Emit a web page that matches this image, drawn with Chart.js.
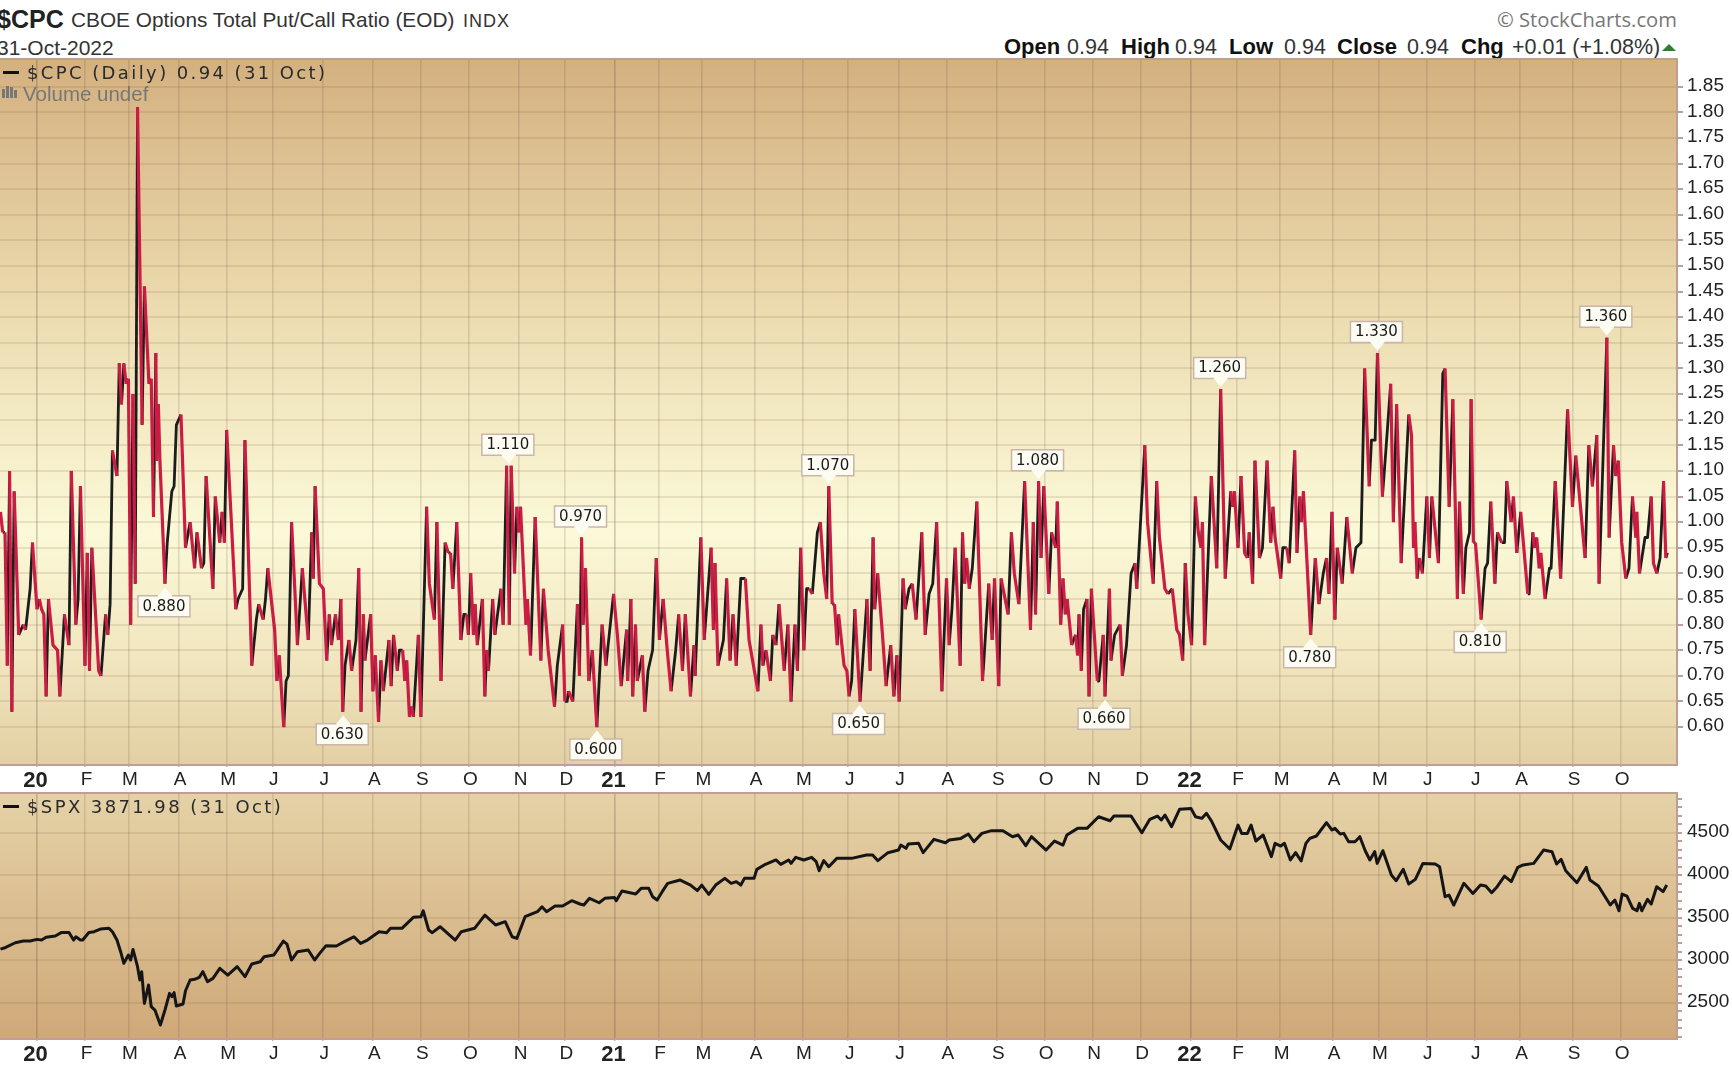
<!DOCTYPE html>
<html>
<head>
<meta charset="utf-8">
<title>$CPC</title>
<script src="https://cdn.jsdelivr.net/npm/chart.js@4"></script>
<style>
html, body { margin: 0; padding: 0; background: #fff; width: 1732px; height: 1066px; overflow: hidden; }
canvas { position: absolute; left: 0; }
.t { position: absolute; white-space: nowrap; font-family: "Liberation Sans", sans-serif; color: #222; line-height: 1; }
.b { font-weight: bold; font-size: 22px; color: #111; top: 36px; }
.v { font-size: 21.5px; color: #333; top: 37px; }
.leg { font-family: "DejaVu Sans"; font-size: 18px; letter-spacing: 2.4px; color: #2a2a2a; }
</style>
</head>
<body>
<div class="t" style="left:-3px;top:7px;font-size:25px;font-weight:bold;color:#222">$CPC</div>
<div class="t" style="left:71px;top:10px;font-size:20.8px;color:#333">CBOE Options Total Put/Call Ratio (EOD)</div>
<div class="t" style="left:463px;top:12px;font-size:18px;letter-spacing:1px;color:#333">INDX</div>
<div class="t" style="left:-3px;top:37px;font-size:21px;color:#333">31-Oct-2022</div>
<div class="t" style="left:1497px;top:9px;font-family:'Open Sans';font-size:20.2px;color:#777">© StockCharts.com</div>
<div class="t b" style="left:1004px">Open</div><div class="t v" style="left:1067px">0.94</div>
<div class="t b" style="left:1121px">High</div><div class="t v" style="left:1175px">0.94</div>
<div class="t b" style="left:1229px">Low</div><div class="t v" style="left:1284px">0.94</div>
<div class="t b" style="left:1337px">Close</div><div class="t v" style="left:1407px">0.94</div>
<div class="t b" style="left:1461px">Chg</div><div class="t v" style="left:1512px">+0.01 (+1.08%)</div>
<div style="position:absolute;left:1662px;top:44px;width:0;height:0;border-left:7px solid transparent;border-right:7px solid transparent;border-bottom:7px solid #2e7d32"></div>

<canvas id="cpcChart" width="1732" height="740" style="top:50px"></canvas>
<canvas id="spxChart" width="1732" height="282" style="top:784px"></canvas>

<div style="position:absolute;left:3px;top:71px;width:16px;height:3px;background:#111"></div>
<div class="t leg" style="left:27px;top:64px">$CPC (Daily) 0.94 (31 Oct)</div>
<div style="position:absolute;left:2px;top:89px;width:3px;height:9px;background:#777"></div>
<div style="position:absolute;left:6px;top:86px;width:3px;height:12px;background:#777"></div>
<div style="position:absolute;left:10px;top:87px;width:3px;height:11px;background:#777"></div>
<div style="position:absolute;left:14px;top:90px;width:3px;height:8px;background:#777"></div>
<div class="t" style="left:23px;top:84px;font-size:20.5px;color:#777">Volume undef</div>
<div style="position:absolute;left:3px;top:805px;width:16px;height:3px;background:#111"></div>
<div class="t leg" style="left:27px;top:798px">$SPX 3871.98 (31 Oct)</div>

<script>
// x positions are trading days counted from 2 Jan 2020
const monthDays = [0, 21, 40, 62, 83, 103, 125, 147, 168, 189, 211, 231,
    253, 272, 291, 314, 335, 355, 377, 398, 420, 441, 462, 483,
    505, 525, 544, 567, 587, 608, 629, 649, 672, 693];
const monthNames = ["20", "F", "M", "A", "M", "J", "J", "A", "S", "O", "N", "D",
    "21", "F", "M", "A", "M", "J", "J", "A", "S", "O", "N", "D",
    "22", "F", "M", "A", "M", "J", "J", "A", "S", "O"];

const cpcTicks = [0.60, 0.65, 0.70, 0.75, 0.80, 0.85, 0.90, 0.95, 1.00, 1.05, 1.10, 1.15, 1.20,
    1.25, 1.30, 1.35, 1.40, 1.45, 1.50, 1.55, 1.60, 1.65, 1.70, 1.75, 1.80, 1.85];
const spxTicks = [2100, 2200, 2300, 2400, 2500, 2600, 2700, 2800, 2900, 3000, 3100, 3200, 3300, 3400, 3500,
    3600, 3700, 3800, 3900, 4000, 4100, 4200, 4300, 4400, 4500, 4600, 4700, 4800, 4900];

const cpcDays = [-16, -15, -14, -13, -12, -11, -10, -8, -6, -5, -3, -2, 0, 1, 2, 3, 4, 5, 7, 9, 10, 12, 14, 15, 17, 18, 19,
    21, 22, 23, 24, 27, 28, 30, 31, 32, 33, 35, 36, 37, 38, 39, 40, 41, 42, 43, 44, 46, 47, 49, 50, 51, 52, 52.4, 53.1, 53.8,
    56, 57, 59, 60, 61, 63, 65, 67, 69, 70, 72, 73, 74, 77, 78, 80, 81, 82, 83, 87, 88, 90, 91, 94, 96, 97, 99, 100, 101,
    103, 104, 105, 106, 108, 109, 110, 111.4, 114, 116.1, 118.7, 120.2, 120.9, 121.7, 123.6, 125.3, 126.8, 127.9, 128.9,
    130.6, 131.9, 133, 133.8, 134.8, 136.5, 137.7, 139.6, 140.8, 141.8, 142.8, 143.5, 146, 147, 148, 149.5, 150.5, 151.6,
    154, 155, 156, 157.7, 158.6, 160, 161, 161.8, 163, 164, 164.7, 166.9, 168, 170.5, 171.7, 173.9, 175, 176.8, 178.6, 180,
    181, 182, 183.7, 185.5, 186.8, 188, 188.8, 189.8, 191, 191.7, 192.7, 194.9, 196, 196.8, 197.6, 199.4, 200.4, 203, 204,
    205.5, 206.7, 207.5, 209, 210, 210.9, 211.6, 214, 214.6, 216, 218, 220.5, 221.6, 223.7, 226.5, 227.7, 230, 231, 232,
    232.6, 234.5, 236.5, 237.4, 238.3, 239, 240, 241.5, 243, 245,
    247.3, 249, 252.3, 254, 255.7, 258, 258.5, 259.9, 260.7, 261.9, 262.7, 264.9, 266, 267.4, 269.4, 271, 272.4, 274, 275.8,
    277.5, 279.5, 280.8, 282.5, 283.7, 286, 287.5, 288, 290.5, 292, 295, 296, 296.7, 298, 300.4, 301.8, 303.3, 304.6, 306,
    308, 310, 311.6, 315.5, 316.8, 317.7, 319, 321, 322, 323.4, 324.7, 327, 328.6, 330, 331.7, 332.8, 334.2, 335.6, 336.8,
    338, 339.3, 341.5, 342.8, 344.3, 345.6, 346.5, 348, 349, 350.2, 350.8, 353.2, 354.4, 355.4, 356.5, 357.9, 360.2, 363.2,
    364.6, 365.9, 366.6, 367.9, 370, 371.6, 373.6, 375, 376.3, 377.3, 379, 380, 381.6, 383, 384.7, 387.2, 388.7, 390.4, 392,
    393.7, 396, 398, 399.2, 400.4, 401.8, 404, 405, 406, 406.8, 408, 409.3, 411.3, 413.8, 416.5, 418, 419, 420.9, 421.9,
    425, 426.4, 427.7, 429.7, 432.2, 434.8, 436, 437, 438.3, 439.4, 440.6, 442.8, 444, 445.8, 446.5, 448, 449, 450, 450.8,
    452.8, 454.5, 455.4, 456, 457, 458, 459.5, 460.4, 461.4, 464, 464.7, 466.6, 467.4, 469.3, 470, 471.6, 474, 475, 476.8,
    478.8, 480.5, 481.3, 484.8, 486, 488.5, 490,
    491.2, 493.6, 494.9, 496.8, 498.8, 500, 501.4, 502.5, 503.7, 505.3, 506.9, 508.2, 509.4, 510, 511, 513.9, 516.3, 518, 520,
    522.4, 523.3, 524, 525.6, 526.9, 528.5, 529.7, 530.5, 532, 533, 535, 536.3, 538.3, 539.9, 540.9, 541.8, 544.3, 545.2,
    546.9, 548, 550.4, 551.4, 552.6, 553.4, 554.2, 557.4, 559.4, 561, 562.9, 564.3, 565.4, 566.7, 568, 569, 571.2, 573.2,
    575.6, 577.2, 579.4, 581, 583, 584,
    585.6, 586.6, 588.8, 590.3, 592.4, 593.6, 595, 597, 600.3, 601.5, 602.4, 603, 604, 605, 606.3, 608.2, 609.4, 610.4, 613.3,
    615.2, 616.2, 618, 619.6, 621.6, 622.5, 624.2, 625.3, 626.9, 627.6, 628.6, 629.5, 632, 633.7, 634.8, 636.2, 638, 639.1,
    641, 642.2, 643.2, 645.1, 646.1, 647.6, 649.3, 652.4, 653, 654.6, 655.3, 656.3, 657.4, 658.1, 660, 661.9, 662.6, 664.4,
    666.8, 669.8, 672, 673.4, 677.5, 679.1, 680.7, 682.6, 683.6, 687, 688, 689.9, 690.9, 692, 693.5, 695.3, 696.7, 698.2,
    699.7, 700.1, 701.3, 703.7, 704.8, 706.4, 707.4, 708.9, 710.3, 711.8, 712.8, 713.5];
const cpcValues = [1.02, 0.98, 0.98, 0.72, 1.10, 0.63, 1.06, 0.78, 0.80, 0.79, 0.87, 0.96, 0.83, 0.85, 0.83, 0.82, 0.66, 0.85, 0.76, 0.75, 0.66, 0.82, 0.76, 1.10, 0.80, 0.85, 1.07,
    0.72, 0.94, 0.71, 0.95, 0.71, 0.70, 0.82, 0.78, 0.84, 1.14, 1.09, 1.31, 1.23, 1.31, 1.27, 1.28, 0.80, 1.25, 0.88, 1.81, 1.19, 1.46, 1.27, 1.28, 1.01, 1.33, 1.12, 1.23, 1.12,
    0.88, 0.96, 1.06, 1.07, 1.19, 1.21, 0.95, 1.00, 0.91, 0.98, 0.91, 0.92, 1.09, 0.87, 1.05, 0.96, 1.02, 0.96, 1.18, 0.83, 0.85, 0.87, 1.16, 0.72, 0.81, 0.84, 0.81, 0.85, 0.91,
    0.83, 0.79, 0.69, 0.74, 0.60, 0.69, 0.70, 1.00, 0.76, 0.91, 0.77, 0.98, 0.89, 1.07, 0.88, 0.87, 0.73, 0.82, 0.76,
    0.82, 0.77, 0.85, 0.63, 0.72, 0.77, 0.71, 0.77, 0.91, 0.63, 0.82, 0.73, 0.82, 0.67, 0.74, 0.61, 0.73, 0.67,
    0.77, 0.68, 0.78, 0.71, 0.75, 0.75, 0.69, 0.73, 0.62, 0.64, 0.62, 0.78, 0.62, 1.03, 0.88, 0.81, 1.00, 0.69, 0.96, 0.94,
    0.94, 0.87, 1.00, 0.77, 0.82, 0.82, 0.78, 0.90, 0.78, 0.84, 0.76, 0.85, 0.66, 0.75, 0.71, 0.85, 0.78, 0.87, 0.80,
    1.11, 0.80, 1.11, 0.90, 1.03, 0.98, 1.03, 0.80, 0.85, 0.74, 1.01, 0.73, 0.87, 0.75, 0.64, 0.72, 0.80, 0.65, 0.65,
    0.67, 0.65, 0.84, 0.70, 0.97, 0.80, 0.91, 0.69, 0.75, 0.60,
    0.80, 0.72, 0.86, 0.78, 0.68, 0.79, 0.69, 0.85, 0.66, 0.80, 0.69, 0.74, 0.63, 0.71, 0.75, 0.93, 0.77, 0.85, 0.75,
    0.67, 0.75, 0.82, 0.71, 0.82, 0.66, 0.76, 0.70, 0.97, 0.77, 0.95, 0.79, 0.92, 0.72, 0.77, 0.89, 0.73, 0.82, 0.72,
    0.89, 0.89, 0.77, 0.67, 0.80, 0.72, 0.75, 0.69, 0.78, 0.76, 0.84, 0.71, 0.80, 0.65, 0.80, 0.71, 0.95, 0.75, 0.87,
    0.87, 0.86, 0.98, 1.00, 0.90, 0.85, 1.07, 0.84, 0.84, 0.76, 0.82, 0.72, 0.71, 0.66, 0.69, 0.83, 0.65, 0.85,
    0.71, 0.97, 0.83, 0.90, 0.78, 0.68, 0.76, 0.66, 0.74, 0.65, 0.89, 0.83, 0.87, 0.88, 0.81, 0.98, 0.78, 0.86, 0.88,
    1.00, 0.67, 0.89, 0.76, 0.83, 0.95, 0.72, 0.98, 0.88, 0.93, 0.87, 0.91, 1.04, 0.69, 0.88, 0.77, 0.89, 0.68, 0.89,
    0.82, 0.98, 0.90, 0.84, 1.08, 0.79, 1.00, 0.82, 1.08, 0.93, 1.07, 0.86, 0.98, 0.95, 1.04, 0.80, 0.89, 0.82, 0.85,
    0.76, 0.78, 0.74, 0.82, 0.71, 0.83, 0.85, 0.66, 0.87, 0.69, 0.69, 0.78, 0.66, 0.87, 0.73, 0.78, 0.80, 0.70, 0.76,
    0.90, 0.92, 0.87, 1.15, 1.00, 0.88, 1.08,
    0.97, 0.87, 0.86, 0.87, 0.79, 0.78, 0.73, 0.92, 0.82, 0.76, 1.05, 0.98, 0.95, 1.00, 0.76, 1.09, 0.91, 1.26, 0.89,
    1.06, 1.03, 1.06, 0.95, 1.09, 0.94, 0.93, 0.98, 0.88, 1.12, 0.93, 0.95, 1.12, 0.96, 1.03, 0.97, 0.89, 0.95,
    0.95, 0.92, 1.14, 0.94, 1.05, 1.00, 1.06, 0.78, 0.93, 0.84, 0.90, 0.93, 0.86, 1.02, 0.81, 0.95, 0.88, 1.01,
    0.90, 0.95, 0.96, 1.30, 1.07, 1.16,
    1.16, 1.33, 1.05, 1.14, 1.27, 1.00, 1.23, 0.92, 1.21, 1.17, 0.95, 1.00, 0.89, 0.93, 0.90, 1.05, 0.93, 1.05, 0.92,
    1.29, 1.30, 1.03, 1.24, 0.85, 1.04, 0.86, 0.95, 0.98, 1.24, 0.96, 0.96, 0.81, 0.91, 0.92, 1.04, 0.88, 0.98,
    0.96, 0.96, 1.08, 1.00, 1.05, 0.94, 1.02, 0.86, 0.86, 0.98, 0.95, 0.97, 0.91, 0.94, 0.85, 0.91, 0.91, 1.08,
    0.89, 1.22, 1.03, 1.13, 0.93, 1.15, 1.07, 1.17, 0.88, 1.36, 0.97, 1.15, 1.09, 1.12, 0.96, 0.89, 0.91, 1.05,
    0.97, 1.02, 0.90, 0.97, 0.97, 1.05, 0.92, 0.90, 0.93, 1.08, 0.93, 0.94];

const spxDays = [-16, -13.7, -9.5, -6, -3, 0, 2, 4, 8, 10.6, 14, 16, 17, 19, 20, 22.7, 25, 27.7, 31.5, 33, 35, 36.6, 38, 40, 41, 42,
    44, 45, 45.8, 47, 48.8, 50, 51.6, 54, 56, 58, 59, 60, 61, 63.9, 65, 67, 69, 71, 72.6, 74.6, 77, 80, 83.5, 87.6, 91, 94,
    97.7, 99.4, 103.6, 105, 107.8, 109.4, 111.4, 114, 118.7, 121.5, 123.7, 126.5, 131, 134.5, 138.7, 141.6, 144.6, 149.7, 153,
    154.7, 159.7, 164.7, 168, 169, 171.4, 173, 176.4, 183, 185.7, 191.5, 196, 200.7, 204.9, 207.9, 210, 213.6, 219, 221, 223,
    226.7, 230, 234, 237.6, 239.3, 241.8, 246, 248.5, 252.7, 253.5, 256, 262, 264.4, 267.7, 269.4, 271.4, 273.6, 276, 281.5,
    286, 289, 290.9, 294, 297, 301, 303.8, 306, 308, 309.6, 313.8, 315, 318.8, 323.4, 325.5, 328.9, 330, 332, 335.6, 339, 341,
    342.3, 344.3, 346.5, 350, 356.5, 363, 365.7, 368, 372.4, 377, 378, 380.3, 381.3, 385.8, 387.8, 392.5, 397.6, 399.2, 404.3,
    407.6, 410, 413.5, 417.7, 422.7, 426.9, 429.4, 432.7, 435.2, 441.6, 445.3, 449, 450.7, 455.4, 459.5, 464.6, 469.6, 471.3,
    478.8, 483.5, 487, 490.3, 492, 493.6, 496.5, 500, 505, 507, 509.8, 511.8, 513.9, 518, 522, 525.6, 527.2, 529.7, 531.3,
    533.4, 536.6, 540.2, 541.8, 544.3, 545.9, 548.5, 550.8, 553.2, 555.3, 557, 559.9, 564.3, 566.7, 568, 570.3, 571.9, 574,
    576.8, 578.9, 581.3, 583.3, 585.4, 586.5, 589, 592.7, 594.8, 597.9, 600.3, 603.2, 606.5, 611.9, 613.8, 616.2, 617.9, 620,
    622, 624.4, 628.4, 631.7, 634, 636.6, 639, 642.2, 645.2, 648, 650.4, 655, 659.3, 663, 665, 667, 669, 673.9, 678, 679.6,
    683.3, 688.5, 690.5, 692.3, 693.7, 695.8, 698.3, 700.2, 701.2, 702.3, 704.8, 706.4, 708.8, 711.6, 713.2];
const spxValues = [3130, 3150, 3205, 3225, 3225, 3245, 3237, 3270, 3285, 3325, 3325, 3237, 3276, 3237, 3237, 3325, 3335, 3367, 3375, 3335, 3237, 3100, 2963, 3060, 3002, 3127,
    2924, 2767, 2865, 2492, 2708, 2453, 2414, 2237, 2414, 2610, 2571, 2618, 2461, 2484, 2641, 2767, 2775, 2798, 2865, 2747, 2786, 2904, 2825, 2924, 2806, 2955,
    2982, 3041, 3061, 3112, 3225, 3190, 3002, 3100, 3120, 3002, 3080, 3171, 3167, 3218, 3276, 3198, 3237, 3335, 3324,
    3375, 3375, 3504, 3512, 3582, 3355, 3324, 3394, 3237, 3335, 3375, 3531, 3414, 3453, 3276, 3257, 3512, 3571, 3629, 3571,
    3637, 3637, 3700, 3661, 3649, 3728, 3676, 3728, 3739, 3700, 3814, 3779, 3845, 3845, 3747, 3708, 3806, 3904, 3943,
    3884, 3818, 3884, 3775, 3884, 3963, 3904, 3924, 3884, 3963, 3963, 4069, 4128, 4179, 4128, 4179, 4139, 4210, 4179, 4210, 4159,
    4053, 4171, 4100, 4198, 4198, 4237, 4237, 4171, 4265, 4296, 4355, 4316, 4367, 4375, 4265, 4422, 4382, 4414, 4433,
    4484, 4394, 4492, 4524, 4524, 4453, 4473, 4347, 4453, 4296, 4402, 4355, 4473, 4551, 4551, 4688, 4641, 4696,
    4696, 4500, 4657, 4696, 4649, 4708, 4571, 4775, 4786, 4688, 4669, 4728, 4641, 4414, 4308, 4590, 4492, 4492, 4590,
    4402, 4473, 4218, 4375, 4343, 4375, 4179, 4265, 4167, 4375, 4433, 4461, 4618, 4532, 4551, 4484, 4492, 4394,
    4394, 4453, 4284, 4179, 4277, 4139, 4288, 4002, 3935, 4069, 3896, 3951, 4139, 4131, 4100, 3747, 3767, 3649,
    3767, 3904, 3786, 3884, 3873, 3794, 3865, 3990, 3924, 4092, 4120, 4139, 4296, 4277, 4131, 4186, 4053, 3912, 4092, 3943,
    3873, 3649, 3708, 3582, 3778, 3755, 3610, 3582, 3669, 3582, 3716, 3661, 3865, 3806, 3884];

// highs and lows flagged on the $CPC panel
const calloutDays = [56, 134, 206.5, 238.3, 245, 346.5, 360, 438.3, 467.4, 518, 557.4, 586.6, 632, 687];
const calloutValues = [0.88, 0.63, 1.11, 0.97, 0.60, 1.07, 0.65, 1.08, 0.66, 1.26, 0.78, 1.33, 0.81, 1.36];
const calloutAbove = [false, false, true, true, false, true, false, true, false, true, false, true, false, true];

const upColor = '#1c1c1c';
const downColor = '#cc1c44';
const hidden = 'rgba(0, 0, 0, 0)';
const gridColor = 'rgba(125, 95, 70, 0.15)';
const edgeColor = '#c09e94';
const tickFont = { family: '"Liberation Sans"', size: 19 };

const panelPaint = {
    id: 'panelPaint',
    beforeDraw(chart, args, opts) {
        const a = chart.chartArea, c = chart.ctx;
        const g = c.createLinearGradient(0, a.top, 0, a.bottom);
        opts.stops.forEach(s => g.addColorStop(s[0], s[1]));
        c.save();
        c.fillStyle = g;
        c.fillRect(a.left, a.top, a.width, a.height);
        c.restore();
    },
    afterDraw(chart) {
        const a = chart.chartArea, c = chart.ctx;
        c.save();
        c.strokeStyle = edgeColor;
        c.lineWidth = 2;
        c.beginPath();
        c.moveTo(a.left, a.top);
        c.lineTo(a.right, a.top);
        c.lineTo(a.right, a.bottom);
        c.lineTo(a.left, a.bottom);
        c.stroke();
        c.restore();
    }
};

const calloutPaint = {
    id: 'calloutPaint',
    afterDatasetsDraw(chart) {
        const c = chart.ctx, x = chart.scales.x, y = chart.scales.y;
        c.save();
        c.font = '15px "DejaVu Sans"';
        c.textAlign = 'center';
        c.textBaseline = 'middle';
        calloutDays.forEach((d, i) => {
            const px = x.getPixelForValue(d), py = y.getPixelForValue(calloutValues[i]);
            const dir = calloutAbove[i] ? -1 : 1;
            const tip = py + dir * (calloutAbove[i] ? 2 : 3.5), base = tip + dir * 8.5, far = base + dir * 21;
            const l = px - 27, r = px + 25;
            c.beginPath();
            c.moveTo(px, tip);
            c.lineTo(px + 7, base);
            c.lineTo(r, base);
            c.lineTo(r, far);
            c.lineTo(l, far);
            c.lineTo(l, base);
            c.lineTo(px - 7, base);
            c.closePath();
            c.fillStyle = '#fdfcf3';
            c.fill();
            c.strokeStyle = '#c9b5aa';
            c.lineWidth = 1.5;
            c.beginPath();
            c.moveTo(px + 7, base);
            c.lineTo(r, base);
            c.lineTo(r, far);
            c.lineTo(l, far);
            c.lineTo(l, base);
            c.lineTo(px - 7, base);
            c.stroke();
            c.fillStyle = '#1a1a1a';
            c.fillText(calloutValues[i].toFixed(3), px - 1, (base + far) / 2 + 0.5);
        });
        c.restore();
    }
};

// the label padding Chart.js reserves would push the panels off their places
function noAxisPadding(s) {
    s.paddingTop = 0;
    s.paddingBottom = 0;
    s.paddingLeft = 0;
    s.paddingRight = 0;
}

function xAxis(bottomSpace) {
    const isYear = c => c.tick && monthNames[monthDays.indexOf(c.tick.value)].length > 1;
    return {
        type: 'linear',
        min: -16.19,
        max: 717.7,
        afterBuildTicks: s => { s.ticks = monthDays.map(v => ({ value: v })); },
        afterFit: s => { s.height = bottomSpace; noAxisPadding(s); },
        border: { display: false },
        grid: {
            color: c => isYear(c) ? 'rgba(110, 85, 70, 0.3)' : 'rgba(110, 85, 70, 0.18)',
            lineWidth: 1.6,
            tickLength: 2,
            tickColor: 'rgba(110, 85, 70, 0.4)'
        },
        ticks: {
            autoSkip: false,
            maxRotation: 0,
            padding: 1,
            labelOffset: 1.5,
            color: '#222',
            font: c => ({
                family: tickFont.family,
                size: isYear(c) ? 22 : 19,
                weight: isYear(c) ? 'bold' : 'normal'
            }),
            callback: v => {
                const name = monthNames[monthDays.indexOf(v)];
                return name.length > 1 ? name + ' ' : name;
            }
        }
    };
}

function pairs(days, values) {
    return days.map((d, i) => ({ x: d, y: values[i] }));
}

// red falls are a separate pass so they sit on top of the black rises
const cpcLine = {
    data: pairs(cpcDays, cpcValues),
    pointRadius: 0,
    tension: 0,
    borderJoinStyle: 'round'
};

new Chart(document.getElementById('cpcChart'), {
    type: 'line',
    data: {
        datasets: [
            Object.assign({}, cpcLine, {
                label: '$CPC down',
                borderColor: downColor,
                borderWidth: 3.2,
                segment: { borderColor: c => c.p1.parsed.y < c.p0.parsed.y ? downColor : hidden }
            }),
            Object.assign({}, cpcLine, {
                label: '$CPC up',
                borderColor: upColor,
                borderWidth: 2.8,
                segment: { borderColor: c => c.p1.parsed.y < c.p0.parsed.y ? hidden : upColor }
            })
        ]
    },
    options: {
        responsive: false,
        animation: false,
        events: [],
        layout: { padding: { top: 9 } },
        plugins: {
            legend: { display: false },
            tooltip: { enabled: false },
            panelPaint: { stops: [[0, '#d4b07f'], [0.36, '#ecdcb0'], [0.67, '#fbf9d8'], [0.85, '#f1e6bf'], [1, '#e3cfa3']] }
        },
        scales: {
            x: xAxis(25),
            y: {
                position: 'right',
                min: 0.526,
                max: 1.904,
                afterBuildTicks: s => { s.ticks = cpcTicks.map(v => ({ value: v })); },
                afterFit: s => { s.width = 55; noAxisPadding(s); },
                border: { display: false },
                grid: { color: gridColor, lineWidth: 2, tickLength: 6, tickColor: edgeColor },
                ticks: {
                    autoSkip: false,
                    padding: 4,
                    labelOffset: -1,
                    color: '#222',
                    font: tickFont,
                    callback: v => Number(v).toFixed(2)
                }
            }
        }
    },
    plugins: [panelPaint, calloutPaint]
});

new Chart(document.getElementById('spxChart'), {
    type: 'line',
    data: {
        datasets: [{
            label: '$SPX',
            data: pairs(spxDays, spxValues),
            borderColor: '#151515',
            borderWidth: 3,
            pointRadius: 0,
            tension: 0,
            borderJoinStyle: 'round'
        }]
    },
    options: {
        responsive: false,
        animation: false,
        events: [],
        layout: { padding: { top: 9 } },
        plugins: {
            legend: { display: false },
            tooltip: { enabled: false },
            panelPaint: { stops: [[0, '#e5d2a7'], [1, '#cfa878']] }
        },
        scales: {
            x: xAxis(27),
            y: {
                position: 'right',
                min: 2073,
                max: 4967,
                afterBuildTicks: s => { s.ticks = spxTicks.map(v => ({ value: v })); },
                afterFit: s => { s.width = 55; noAxisPadding(s); },
                border: { display: false },
                grid: {
                    color: c => (c.tick && c.tick.value % 500 === 0) ? gridColor : hidden,
                    lineWidth: 2,
                    tickLength: 5,
                    tickColor: edgeColor
                },
                ticks: {
                    autoSkip: false,
                    padding: 5,
                    labelOffset: -1,
                    color: '#222',
                    font: tickFont,
                    callback: v => v % 500 === 0 ? String(v) : ''
                }
            }
        }
    },
    plugins: [panelPaint]
});
</script>
</body>
</html>
